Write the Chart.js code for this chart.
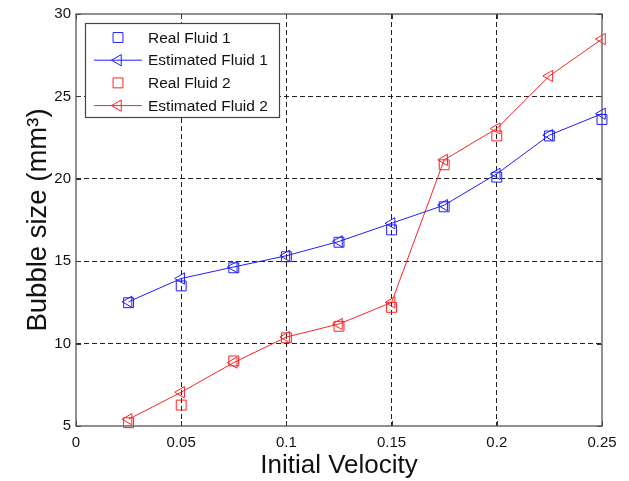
<!DOCTYPE html>
<html>
<head>
<meta charset="utf-8">
<script src="https://cdn.jsdelivr.net/npm/chart.js@4/dist/chart.umd.min.js"></script>
<style>
html,body{margin:0;padding:0;background:#fff;}
#wrap{width:629px;height:481px;}
</style>
</head>
<body>
<div id="wrap"><canvas id="c" width="629" height="481"></canvas></div>
<script>
const velocity = [0.025, 0.05, 0.075, 0.1, 0.125, 0.15, 0.175, 0.2, 0.225, 0.25];
const realFluid1 = [12.48, 13.5, 14.6, 15.27, 16.15, 16.9, 18.3, 20.1, 22.6, 23.6];
const estFluid1 = [12.54, 13.95, 14.65, 15.33, 16.2, 17.3, 18.4, 20.3, 22.65, 23.95];
const realFluid2 = [5.2, 6.27, 8.95, 10.35, 11.05, 12.2, 20.85, 22.6];
const estFluid2 = [5.41, 7.05, 8.85, 10.4, 11.19, 12.5, 21.15, 23.05, 26.24, 28.48];
const xTickLabels = ['0', '0.05', '0.1', '0.15', '0.2', '0.25'];
const yTickLabels = ['5', '10', '15', '20', '25', '30'];
const seriesNames = ['Real Fluid 1', 'Estimated Fluid 1', 'Real Fluid 2', 'Estimated Fluid 2'];

const BLUE = 'rgb(30,30,255)';
const RED = 'rgb(255,35,35)';
const FONT = "'Liberation Sans', Arial, Helvetica, sans-serif";

function pts(vals) { return vals.map((v, i) => ({x: velocity[i], y: v})); }

function drawMarker(ctx, style, x, y, r, color) {
  ctx.save();
  ctx.strokeStyle = color; ctx.lineWidth = 1; ctx.setLineDash([]);
  ctx.beginPath();
  if (style === 'rect') {
    const s = r * Math.SQRT1_2;
    ctx.rect(x - s, y - s, 2 * s, 2 * s);
  } else {
    for (let k = 0; k < 3; k++) {
      const a = -Math.PI / 2 + k * 2 * Math.PI / 3;
      const px = x + Math.sin(a) * r, py = y - Math.cos(a) * r;
      if (k === 0) ctx.moveTo(px, py); else ctx.lineTo(px, py);
    }
    ctx.closePath();
  }
  ctx.stroke();
  ctx.restore();
}

const framePlugin = {
  id: 'frame',
  beforeDatasetsDraw(chart) {
    const {ctx, chartArea: a, scales} = chart;
    ctx.save();
    ctx.strokeStyle = '#333'; ctx.lineWidth = 1;
    ctx.beginPath();
    scales.x.ticks.forEach(t => {
      const px = Math.round(scales.x.getPixelForValue(t.value)) + 0.5;
      ctx.moveTo(px, a.bottom); ctx.lineTo(px, a.bottom - 5);
      ctx.moveTo(px, a.top); ctx.lineTo(px, a.top + 5);
    });
    scales.y.ticks.forEach(t => {
      const py = Math.round(scales.y.getPixelForValue(t.value)) + 0.5;
      ctx.moveTo(a.left, py); ctx.lineTo(a.left + 5, py);
      ctx.moveTo(a.right, py); ctx.lineTo(a.right - 5, py);
    });
    ctx.stroke();
    ctx.strokeStyle = '#555'; ctx.lineWidth = 1.3;
    ctx.strokeRect(a.left, a.top, a.right - a.left, a.bottom - a.top);
    ctx.restore();
  },
  afterDatasetsDraw(chart) {
    const {ctx} = chart;
    ctx.save();
    const lx = 85, ly = 23, lw = 194, lh = 94;
    ctx.fillStyle = '#fff';
    ctx.fillRect(lx, ly, lw, lh);
    ctx.strokeStyle = '#444'; ctx.lineWidth = 1.2;
    ctx.strokeRect(lx + 0.5, ly + 0.5, lw, lh);
    ctx.font = '15.5px ' + FONT;
    ctx.textBaseline = 'middle';
    ctx.textAlign = 'left';
    chart.data.datasets.forEach((ds, i) => {
      const cy = 37.5 + i * 22.7;
      if (ds.showLine !== false) {
        ctx.strokeStyle = ds.borderColor; ctx.lineWidth = 1;
        ctx.beginPath(); ctx.moveTo(94, cy); ctx.lineTo(142, cy); ctx.stroke();
      }
      drawMarker(ctx, ds.pointStyle, 118, cy, ds.pointRadius, ds.pointBorderColor);
      ctx.fillStyle = '#111';
      ctx.fillText(ds.label, 148, cy + 1);
    });
    ctx.restore();
  }
};

function gridColor(ctx) {
  const n = ctx.scale.ticks.length;
  return (ctx.index === 0 || ctx.index === n - 1) ? 'rgba(0,0,0,0)' : '#222';
}

new Chart(document.getElementById('c'), {
  type: 'line',
  data: {
    datasets: [
      {label: seriesNames[0], data: pts(realFluid1), showLine: false, pointStyle: 'rect', pointRadius: 7, clip: false,
       pointBorderColor: BLUE, borderColor: BLUE, pointBackgroundColor: 'rgba(0,0,0,0)', pointBorderWidth: 1, order: 2},
      {label: seriesNames[1], data: pts(estFluid1), showLine: true, pointStyle: 'triangle', pointRotation: -90, pointRadius: 6.5, clip: false,
       pointBorderColor: BLUE, borderColor: BLUE, borderWidth: 1, pointBackgroundColor: 'rgba(0,0,0,0)', pointBorderWidth: 1, fill: false, tension: 0, order: 1},
      {label: seriesNames[2], data: pts(realFluid2), showLine: false, pointStyle: 'rect', pointRadius: 7, clip: false,
       pointBorderColor: RED, borderColor: RED, pointBackgroundColor: 'rgba(0,0,0,0)', pointBorderWidth: 1, order: 4},
      {label: seriesNames[3], data: pts(estFluid2), showLine: true, pointStyle: 'triangle', pointRotation: -90, pointRadius: 6.5, clip: false,
       pointBorderColor: RED, borderColor: RED, borderWidth: 1, pointBackgroundColor: 'rgba(0,0,0,0)', pointBorderWidth: 1, fill: false, tension: 0, order: 3}
    ]
  },
  options: {
    responsive: false,
    animation: false,
    devicePixelRatio: 1,
    layout: {padding: {top: 14, right: 27, left: 0, bottom: 0}},
    plugins: {legend: {display: false}, tooltip: {enabled: false}},
    elements: {point: {hoverRadius: 7}},
    scales: {
      x: {
        type: 'linear', min: 0, max: 0.25,
        ticks: {stepSize: 0.05, padding: 8, color: '#111', maxRotation: 0, autoSkip: false,
          font: {family: FONT, size: 15},
          callback: (v, i) => xTickLabels[i]},
        grid: {drawTicks: false, color: gridColor, lineWidth: 1},
        border: {display: false, dash: [5, 3]},
        title: {display: true, text: 'Initial Velocity', color: '#111',
          font: {family: FONT, size: 26}, padding: {top: 0, bottom: 0}},
        afterFit: s => { s.height = 55; }
      },
      y: {
        type: 'linear', min: 5, max: 30,
        ticks: {stepSize: 5, padding: 5, color: '#111', autoSkip: false,
          font: {family: FONT, size: 15},
          callback: (v, i) => yTickLabels[i]},
        grid: {drawTicks: false, color: gridColor, lineWidth: 1},
        border: {display: false, dash: [5, 3]},
        title: {display: true, text: 'Bubble size (mm³)', color: '#111',
          font: {family: FONT, size: 27.5}, padding: {top: 21.5, bottom: 0}},
        afterFit: s => { s.width = 76; }
      }
    }
  },
  plugins: [framePlugin]
});
</script>
</body>
</html>
